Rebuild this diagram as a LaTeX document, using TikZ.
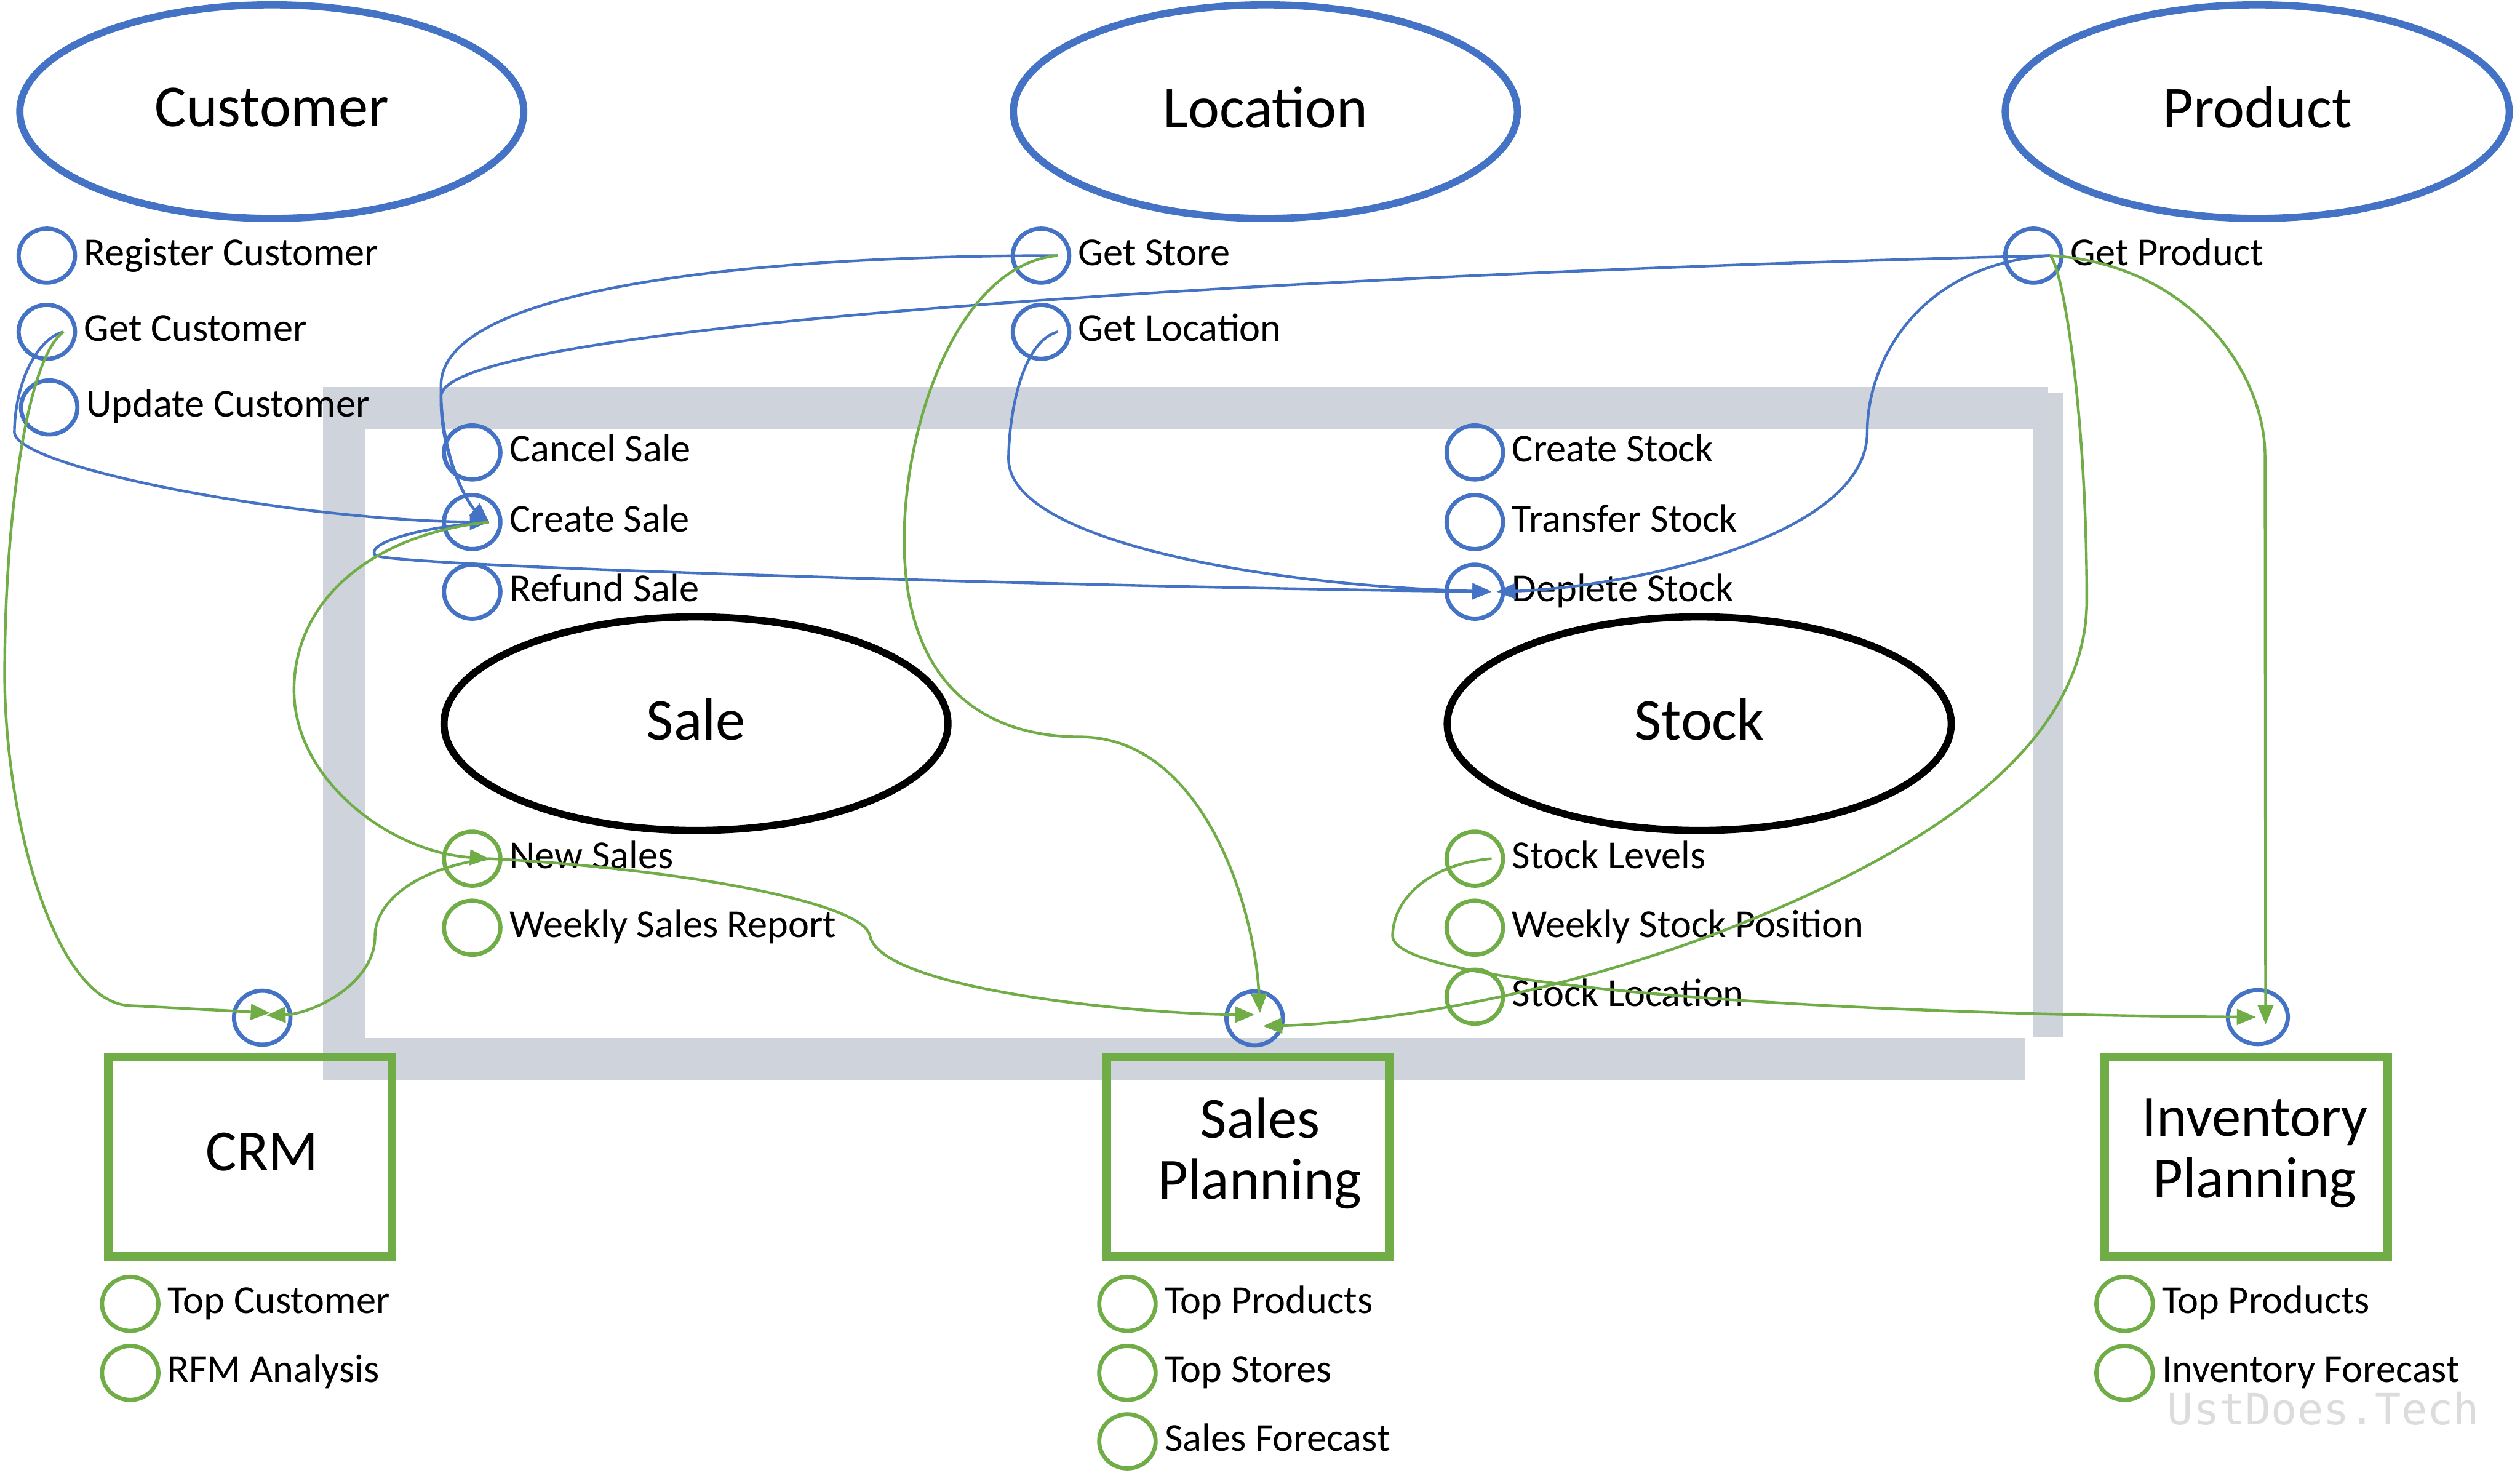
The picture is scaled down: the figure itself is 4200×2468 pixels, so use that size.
\documentclass[tikz,border=0pt]{standalone}
\usepackage{fontspec}
\setmainfont{Carlito}
\newfontfamily\wmfont{DejaVu Sans Mono}
\usetikzlibrary{shapes.geometric,arrows.meta}
\definecolor{myblue}{HTML}{4472C4}
\definecolor{mygreen}{HTML}{70AD47}
\definecolor{frameg}{HTML}{CFD3DB}
\definecolor{wmgray}{HTML}{DCDCDC}
\tikzset{
 opc/.style={ellipse, line width=7pt, minimum width=94pt, minimum height=90pt, inner sep=0pt},
 bop/.style={opc, draw=myblue},
 gop/.style={opc, draw=mygreen},
 lbl/.style={anchor=base west, inner sep=0pt, font=\fontsize{66}{70}\selectfont},
 ent/.style={ellipse, line width=12pt, minimum width=840pt, minimum height=356pt, inner sep=0pt},
 entlbl/.style={inner sep=0pt, font=\fontsize{99}{110}\selectfont},
 sys/.style={draw=mygreen, line width=15pt, minimum width=472pt, minimum height=333pt},
 syslbl/.style={inner sep=0pt, align=center, font=\fontsize{97}{102}\selectfont},
 bconn/.style={draw=myblue, line width=4.5pt, -{Triangle[length=32pt,width=26pt]}},
 gconn/.style={draw=mygreen, line width=4.5pt, -{Triangle[length=32pt,width=26pt]}},
}
\newcommand\opitem[5]{\node[#4] (#1) at (#2,#3) {};
 \node[lbl] (#1-t) at ([xshift=62pt,yshift=-16pt]#1.center) {#5};}
\begin{document}
\begin{tikzpicture}[x=1pt,y=-1pt]
\useasboundingbox (0,0) rectangle (4200,2468);
\fill[white] (0,0) rectangle (4200,2468);
% frame
\draw[frameg, line width=70pt] (3413,680) -- (573,680) -- (573,1765) -- (3376,1765);
\draw[frameg, line width=50pt] (3413,1728) -- (3413,655);
% entities
\node[ent, draw=myblue] (cust) at (453,186) {};
\node[entlbl] (cust-t) at ([yshift=7pt]cust.center) {Customer};
\node[ent, draw=myblue] (loc) at (2109,186) {};
\node[entlbl] (loc-t) at ([yshift=7pt]loc.center) {Location};
\node[ent, draw=myblue] (prod) at (3762,186) {};
\node[entlbl] (prod-t) at ([yshift=7pt]prod.center) {Product};
\node[ent, draw=black] (sale) at (1160,1206) {};
\node[entlbl] (sale-t) at ([yshift=7pt]sale.center) {Sale};
\node[ent, draw=black] (stock) at (2832,1206) {};
\node[entlbl] (stock-t) at ([yshift=7pt]stock.center) {Stock};
% systems
\node[sys] (crm) at (417,1928) {};
\node[syslbl] (crm-t) at ([xshift=20pt,yshift=8pt]crm.center) {CRM};
\node[sys] (sp) at (2080,1928) {};
\node[syslbl] (sp-t) at ([xshift=20pt,yshift=6pt]sp.center) {Sales\\Planning};
\node[sys] (ip) at (3743,1928) {};
\node[syslbl] (ip-t) at ([xshift=15pt,yshift=6pt]ip.center) {Inventory\\Planning};
% ports
\node[bop] (crmp) at (437,1696) {};
\node[bop] (spp) at (2091,1697) {};
\node[bop, minimum width=100pt] (ipp) at (3763,1695) {};
% operations
\opitem{reg}{78}{426}{bop}{Register Customer}
\opitem{gc}{78}{553}{bop}{Get Customer}
\opitem{uc}{82}{679}{bop}{Update Customer}
\opitem{gs}{1735}{426}{bop}{Get Store}
\opitem{gl}{1735}{553}{bop}{Get Location}
\opitem{gp}{3389}{426}{bop}{Get Product}
\opitem{cas}{787}{754}{bop}{Cancel Sale}
\opitem{crs}{787}{870}{bop}{Create Sale}
\opitem{rfs}{787}{986}{bop}{Refund Sale}
\opitem{cst}{2458}{754}{bop}{Create Stock}
\opitem{tst}{2458}{870}{bop}{Transfer Stock}
\opitem{dst}{2458}{986}{bop}{Deplete Stock}
\opitem{ns}{787}{1431}{gop}{New Sales}
\opitem{wsr}{787}{1546}{gop}{Weekly Sales Report}
\opitem{slv}{2458}{1431}{gop}{Stock Levels}
\opitem{wsp}{2458}{1546}{gop}{Weekly Stock Position}
\opitem{sloc}{2458}{1661}{gop}{Stock Location}
\opitem{tc}{217}{2173}{gop}{Top Customer}
\opitem{rfm}{217}{2288}{gop}{RFM Analysis}
\opitem{tpa}{1879}{2173}{gop}{Top Products}
\opitem{tsr}{1879}{2288}{gop}{Top Stores}
\opitem{sf}{1879}{2402}{gop}{Sales Forecast}
\opitem{tpb}{3541}{2173}{gop}{Top Products}
\opitem{invf}{3541}{2288}{gop}{Inventory Forecast}
% blue connectors
\draw[bconn] ([xshift=28pt]gc.center) .. controls (60,565) and (25,640) .. (24,720) .. controls (24,780) and (500,868) .. ([xshift=28pt]crs.center);
\draw[bconn] ([xshift=28pt]gs.center) .. controls (1250,426) and (740,480) .. (735,640) .. controls (733,760) and (780,840) .. ([xshift=28pt]crs.center);
\draw[bconn] ([xshift=28pt]gp.center) .. controls (2400,450) and (740,530) .. (735,660) .. controls (733,760) and (780,840) .. ([xshift=28pt]crs.center);
\draw[bconn] ([xshift=28pt]crs.center) .. controls (700,878) and (610,905) .. (625,925) .. controls (640,945) and (1900,980) .. ([xshift=28pt]dst.center);
\draw[bconn] ([xshift=28pt]gl.center) .. controls (1700,570) and (1681,700) .. (1681,765) .. controls (1681,900) and (2100,975) .. ([xshift=28pt]dst.center);
\draw[bconn] ([xshift=28pt]gp.center) .. controls (3200,440) and (3112,600) .. (3112,720) .. controls (3112,900) and (2700,980) .. ([xshift=36pt]dst.center);
% green connectors
\draw[gconn] ([xshift=28pt]gc.center) .. controls (40,600) and (5,900) .. (8,1150) .. controls (15,1400) and (100,1676) .. (220,1676) -- ([xshift=13pt,yshift=8pt]crmp.center);
\draw[gconn] ([xshift=28pt]ns.center) .. controls (700,1445) and (625,1500) .. (625,1560) .. controls (625,1640) and (520,1690) .. ([xshift=7pt,yshift=4pt]crmp.center);
\draw[gconn] ([xshift=28pt]crs.center) .. controls (620,890) and (490,1000) .. (490,1150) .. controls (490,1300) and (650,1420) .. ([xshift=28pt]ns.center);
\draw[gconn] ([xshift=28pt]ns.center) .. controls (1100,1445) and (1440,1500) .. (1450,1560) .. controls (1470,1650) and (1900,1690) .. ([yshift=6pt]spp.center);
\draw[gconn] ([xshift=28pt]gs.center) .. controls (1600,440) and (1507,700) .. (1507,900) .. controls (1507,1150) and (1650,1228) .. (1800,1228) .. controls (2000,1228) and (2090,1500) .. ([xshift=9pt,yshift=9pt]spp.center);
\draw[gconn] ([xshift=28pt]gp.center) .. controls (3440,450) and (3478,700) .. (3478,1000) .. controls (3478,1250) and (3200,1420) .. (2900,1540) .. controls (2600,1660) and (2300,1705) .. ([xshift=14pt,yshift=-13pt]spp.center);
\draw[gconn] ([xshift=28pt]slv.center) .. controls (2380,1440) and (2321,1500) .. (2321,1560) .. controls (2321,1640) and (3000,1690) .. ([xshift=-3pt]ipp.center);
\draw[gconn] ([xshift=28pt]gp.center) .. controls (3650,440) and (3775,620) .. (3775,760) -- ([xshift=13pt,yshift=-12pt]ipp.center);
% watermark
\node[anchor=base west, text=wmgray, inner sep=0pt, font=\wmfont\fontsize{72}{80}\selectfont] (wm) at (3612,2374) {UstDoes.Tech};
\end{tikzpicture}
\end{document}
